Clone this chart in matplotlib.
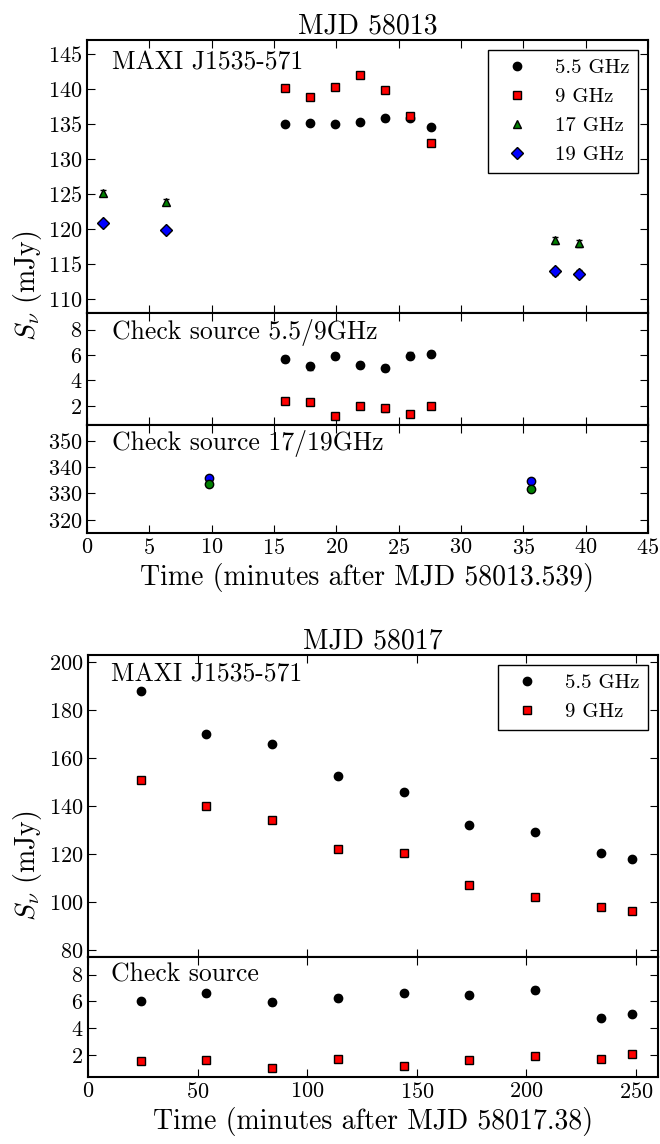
import matplotlib
matplotlib.use("Agg")
import matplotlib.pyplot as plt
from matplotlib.lines import Line2D
from matplotlib.ticker import MultipleLocator

plt.rcParams['font.family'] = ['cmr10', 'DejaVu Serif']
plt.rcParams['mathtext.fontset'] = 'cm'
plt.rcParams['axes.formatter.use_mathtext'] = True
plt.rcParams['xtick.direction'] = 'in'
plt.rcParams['ytick.direction'] = 'in'
plt.rcParams['xtick.top'] = True
plt.rcParams['ytick.right'] = True
plt.rcParams['xtick.major.size'] = 6
plt.rcParams['ytick.major.size'] = 6
plt.rcParams['axes.linewidth'] = 1.5

# ---- MJD 58013 ----
t13_low = [15.9, 17.9, 19.9, 21.9, 23.9, 25.9, 27.6]
s13_55 = [135.0, 135.2, 135.0, 135.3, 135.8, 135.8, 134.6]
s13_9 = [140.1, 138.9, 140.3, 142.0, 139.9, 136.1, 132.3]
e13_low = [0.3, 0.3, 0.3, 0.3, 0.3, 0.3, 0.3]
t13_high = [1.3, 6.3, 37.5, 39.5]
s13_17 = [125.2, 123.9, 118.4, 118.0]
s13_19 = [120.8, 119.8, 114.0, 113.6]
e13_high = [0.4, 0.4, 0.5, 0.5]

chk13_55 = [5.7, 5.1, 5.9, 5.2, 5.0, 5.95, 6.1]
chk13_9 = [2.4, 2.3, 1.2, 2.0, 1.8, 1.35, 2.0]
chk13_err = [0.25, 0.25, 0.25, 0.25, 0.25, 0.25, 0.25]
t13_chk_high = [9.8, 35.6]
chk13_17 = [333.5, 331.6]
chk13_19 = [335.8, 334.8]
chk13_high_err = [0.8, 0.8]

# ---- MJD 58017 ----
t17 = [24, 54, 84, 114, 144, 174, 204, 234, 248]
s17_55 = [188.0, 170.0, 166.0, 152.5, 146.0, 132.0, 129.0, 120.5, 118.0]
s17_9 = [151.0, 140.0, 134.0, 122.0, 120.5, 107.0, 102.0, 98.0, 96.0]
e17 = [0.8, 0.8, 0.8, 0.8, 0.8, 0.8, 0.8, 0.8, 0.8]
chk17_55 = [6.0, 6.6, 5.95, 6.25, 6.6, 6.5, 6.85, 4.8, 5.1]
chk17_9 = [1.6, 1.65, 1.1, 1.7, 1.2, 1.65, 1.95, 1.7, 2.1]
chk17_err = [0.2] * 9

styles = {
    '5.5 GHz': dict(marker='o', color='k', mfc='k', mec='k', ms=6),
    '9 GHz': dict(marker='s', color='r', mfc='r', mec='k', ms=6),
    '17 GHz': dict(marker='^', color='k', mfc='g', mec='k', ms=6),
    '19 GHz': dict(marker='D', color='k', mfc='b', mec='k', ms=6),
}

fig = plt.figure(figsize=(6.6, 11.44), dpi=100)

fs_tick = 16
fs_lab = 20
fs_txt = 18.5
fs_leg = 15


def add_ax(left_px, right_px, top_px, bot_px):
    return fig.add_axes([left_px / 660, 1 - bot_px / 1144,
                         (right_px - left_px) / 660, (bot_px - top_px) / 1144])


def eb(ax, x, y, e, key, mfc=None):
    st = dict(styles[key])
    if mfc is not None:
        st['mfc'] = mfc
    ax.errorbar(x, y, yerr=e, fmt=st.pop('marker'), capsize=2, elinewidth=1, **st)


def legend(ax, keys):
    # markers only in the legend, no error bars
    handles = [Line2D([], [], ls='none', **styles[k]) for k in keys]
    leg = ax.legend(handles, keys, loc='upper right', numpoints=1, fontsize=fs_leg,
                    fancybox=False, framealpha=1, edgecolor='k',
                    handletextpad=0.8, labelspacing=0.5)
    leg.get_frame().set_linewidth(1)


# top block
a1 = add_ax(87, 648, 40, 313)
a2 = add_ax(87, 648, 313, 425)
a3 = add_ax(87, 648, 425, 533)

eb(a1, t13_low, s13_55, e13_low, '5.5 GHz')
eb(a1, t13_low, s13_9, e13_low, '9 GHz')
eb(a1, t13_high, s13_17, e13_high, '17 GHz')
eb(a1, t13_high, s13_19, e13_high, '19 GHz')
a1.set_ylim(108, 147)
a1.yaxis.set_major_locator(MultipleLocator(5))
a1.set_title('MJD 58013', fontsize=fs_lab, pad=5)
a1.text(0.045, 0.96, 'MAXI J1535-571', transform=a1.transAxes, fontsize=fs_txt, va='top')
legend(a1, ['5.5 GHz', '9 GHz', '17 GHz', '19 GHz'])

eb(a2, t13_low, chk13_55, chk13_err, '5.5 GHz')
eb(a2, t13_low, chk13_9, chk13_err, '9 GHz')
a2.set_ylim(0.5, 9.3)
a2.yaxis.set_major_locator(MultipleLocator(2))
a2.text(0.045, 0.95, 'Check source 5.5/9GHz', transform=a2.transAxes, fontsize=fs_txt, va='top')

a3.errorbar(t13_chk_high, chk13_19, yerr=chk13_high_err, fmt='o', color='k',
            mfc='b', mec='k', ms=6, capsize=2)
a3.errorbar(t13_chk_high, chk13_17, yerr=chk13_high_err, fmt='o', color='k',
            mfc='g', mec='k', ms=6, capsize=2)
a3.set_ylim(315, 356)
a3.yaxis.set_major_locator(MultipleLocator(10))
a3.text(0.045, 0.95, 'Check source 17/19GHz', transform=a3.transAxes, fontsize=fs_txt, va='top')

for a in (a1, a2, a3):
    a.set_xlim(0, 45)
    a.xaxis.set_major_locator(MultipleLocator(5))
    a.tick_params(labelsize=fs_tick)
for a in (a1, a2):
    a.tick_params(labelbottom=False)
a3.set_xlabel('Time (minutes after MJD 58013.539)', fontsize=fs_lab, labelpad=4)
fig.text(28 / 660, 1 - 286 / 1144, r'$S_\nu$ (mJy)', rotation=90, fontsize=fs_lab,
         va='center', ha='center')

# bottom block
b1 = add_ax(88, 658, 655, 957)
b2 = add_ax(88, 658, 957, 1077)

eb(b1, t17, s17_55, e17, '5.5 GHz')
eb(b1, t17, s17_9, e17, '9 GHz')
b1.set_ylim(77, 203)
b1.yaxis.set_major_locator(MultipleLocator(20))
b1.set_title('MJD 58017', fontsize=fs_lab, pad=5)
b1.text(0.04, 0.975, 'MAXI J1535-571', transform=b1.transAxes, fontsize=fs_txt, va='top')
legend(b1, ['5.5 GHz', '9 GHz'])

eb(b2, t17, chk17_55, chk17_err, '5.5 GHz')
eb(b2, t17, chk17_9, chk17_err, '9 GHz')
b2.set_ylim(0.4, 9.3)
b2.yaxis.set_major_locator(MultipleLocator(2))
b2.text(0.04, 0.95, 'Check source', transform=b2.transAxes, fontsize=fs_txt, va='top')

for a in (b1, b2):
    a.set_xlim(0, 260)
    a.xaxis.set_major_locator(MultipleLocator(50))
    a.tick_params(labelsize=fs_tick)
b1.tick_params(labelbottom=False)
b2.set_xlabel('Time (minutes after MJD 58017.38)', fontsize=fs_lab, labelpad=4)
fig.text(28 / 660, 1 - 866 / 1144, r'$S_\nu$ (mJy)', rotation=90, fontsize=fs_lab,
         va='center', ha='center')

fig.savefig('out.png', dpi=100)
